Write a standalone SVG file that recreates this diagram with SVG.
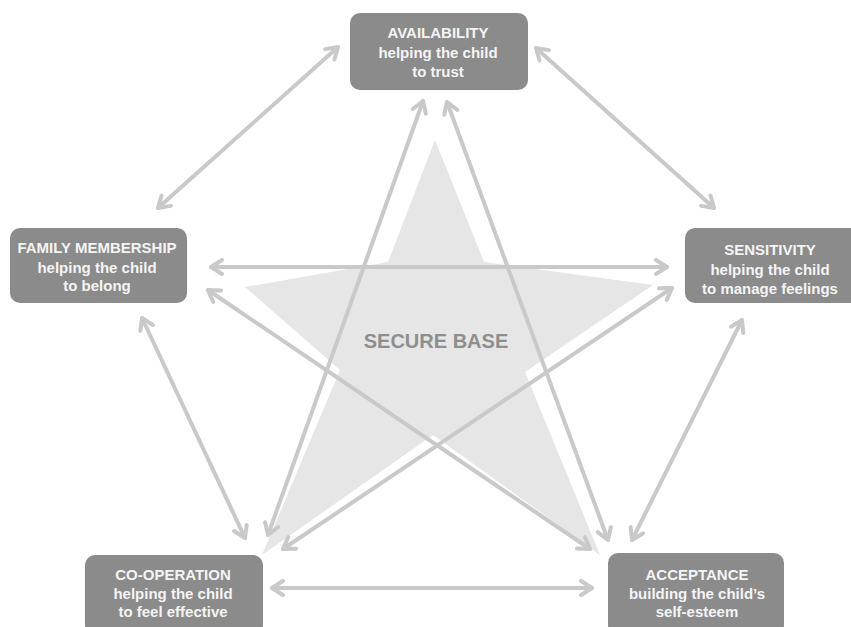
<svg xmlns="http://www.w3.org/2000/svg" width="851" height="627" viewBox="0 0 851 627">
<style>
.box{fill:#8b8b8b}
.t{font-family:"Liberation Sans",Arial,sans-serif;font-weight:bold;font-size:15px;fill:#f4f4f4;text-anchor:middle}
.c{fill:none;stroke:#c9c9c9;stroke-width:4;stroke-linecap:round;marker-start:url(#ah);marker-end:url(#ah)}
.sb{font-family:"Liberation Sans",Arial,sans-serif;font-weight:bold;font-size:20px;fill:#8e8e8e;text-anchor:middle}
</style>
<defs>
<marker id="ah" markerUnits="userSpaceOnUse" markerWidth="18" markerHeight="18" viewBox="0 0 18 18" refX="15" refY="9" orient="auto-start-reverse">
<path d="M4,2 L15,9 L4,16" fill="none" stroke="#c9c9c9" stroke-width="4" stroke-linecap="round" stroke-linejoin="round"/>
</marker>
</defs>
<rect width="851" height="627" fill="#ffffff"/>
<g id="star">
<polygon points="435,140 484,262 653,285 525,372 600,555 433,435 262,555 340,370 245,287 388,262" fill="#e6e6e6"/>
<text class="sb" x="436" y="348">SECURE BASE</text>
</g>
<g id="connectors">
<line class="c" x1="338" y1="47" x2="158" y2="208"/>
<line class="c" x1="536" y1="48" x2="714" y2="208"/>
<line class="c" x1="211" y1="267" x2="667" y2="267"/>
<line class="c" x1="208" y1="290" x2="590" y2="549"/>
<line class="c" x1="672" y1="288" x2="283" y2="549"/>
<line class="c" x1="423" y1="101" x2="268" y2="535"/>
<line class="c" x1="447" y1="102" x2="608" y2="540"/>
<line class="c" x1="142" y1="318" x2="245" y2="538"/>
<line class="c" x1="742" y1="320" x2="632" y2="540"/>
<line class="c" x1="272" y1="588" x2="592" y2="588"/>
</g>
<g id="availability">
<rect class="box" x="350" y="13" width="178" height="77" rx="10"/>
<text class="t" x="438" y="38">AVAILABILITY</text>
<text class="t" x="438" y="57.5">helping the child</text>
<text class="t" x="438" y="77">to trust</text>
</g>
<g id="family-membership">
<rect class="box" x="10" y="228" width="177" height="75" rx="10"/>
<text class="t" x="97" y="253">FAMILY MEMBERSHIP</text>
<text class="t" x="97" y="272.5">helping the child</text>
<text class="t" x="97" y="291">to belong</text>
</g>
<g id="sensitivity">
<rect class="box" x="685" y="228" width="176" height="75" rx="10"/>
<text class="t" x="770" y="255">SENSITIVITY</text>
<text class="t" x="770" y="274.5">helping the child</text>
<text class="t" x="770" y="294">to manage feelings</text>
</g>
<g id="co-operation">
<rect class="box" x="85" y="555" width="178" height="80" rx="10"/>
<text class="t" x="173" y="580">CO-OPERATION</text>
<text class="t" x="173" y="598.5">helping the child</text>
<text class="t" x="173" y="617">to feel effective</text>
</g>
<g id="acceptance">
<rect class="box" x="608" y="553" width="176" height="82" rx="10"/>
<text class="t" x="697" y="580">ACCEPTANCE</text>
<text class="t" x="697" y="598.5">building the child’s</text>
<text class="t" x="697" y="617">self-esteem</text>
</g>
</svg>
